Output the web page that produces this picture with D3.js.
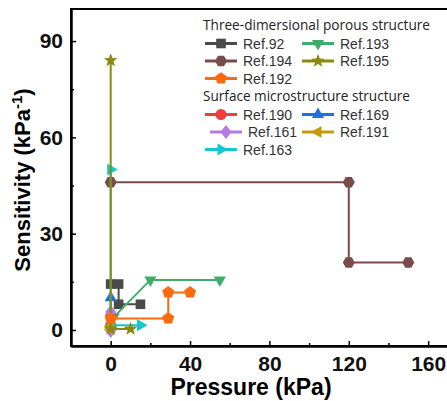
<!DOCTYPE html>
<html>
<head>
<meta charset="utf-8">
<script src="https://cdn.jsdelivr.net/npm/d3@7"></script>
<style>
  body { margin: 0; background: #fff; }
  svg { display: block; }
</style>
</head>
<body>
<div id="chart"></div>
<script>
// pressure (kPa), sensitivity (kPa^-1)
const ref92 = [[0, 14.3], [4, 14.3], [4, 8], [15, 8]];
const ref194 = [[0, 46], [120, 46], [120, 21], [150, 21]];
const ref192 = [[0, 3.6], [29, 3.6], [29, 11.7], [40, 11.7]];
const ref193 = [[1.5, 4], [20, 15.6], [55, 15.6]];
const ref195 = [[0, 84], [0, 0.3], [10, 0.3]];
const ref190 = [[0, 4.2], [0, 1.5]];
const ref169 = [[0, 10], [0, 2]];
const ref161 = [[0, 5.6], [0, -0.3]];
const ref191 = [[0, 1.2], [0, 0.2]];
const ref163 = [[0, 50], [0, 1.5], [15, 1.5]];

const xTicks = [0, 40, 80, 120, 160];
const xMinor = [20, 60, 100, 140];
const yTicks = [0, 30, 60, 90];
const yMinor = [15, 45, 75];

const groupTitles = ["Three-dimersional porous structure", "Surface microstructure structure"];

const W = 447, H = 401;
const MARGIN = { LEFT: 71, TOP: 9, RIGHT: -1, BOTTOM: 55 };

// polygon marker path, r = radius, rot in degrees (0 = first vertex up)
function poly(n, r, rot) {
  let pts = [];
  for (let i = 0; i < n; i++) {
    let a = (rot + i * 360 / n) * Math.PI / 180;
    pts.push([r * Math.sin(a), -r * Math.cos(a)]);
  }
  return "M" + pts.map(p => p.join(",")).join("L") + "Z";
}
function star(r) {
  let pts = [];
  for (let i = 0; i < 10; i++) {
    let a = i * 36 * Math.PI / 180;
    let rr = i % 2 ? r * 0.42 : r;
    pts.push([rr * Math.sin(a), -rr * Math.cos(a)]);
  }
  return "M" + pts.map(p => p.join(",")).join("L") + "Z";
}
const shapes = {
  square: poly(4, 6.8, 45),
  hexagon: poly(6, 6, 30),
  pentagon: poly(5, 6.3, 0),
  tri_down: poly(3, 7, 180),
  tri_up: poly(3, 7, 0),
  tri_left: poly(3, 7, 270),
  tri_right: poly(3, 7, 90),
  star: star(7.2),
  circle: d3.symbol(d3.symbolCircle, 95)(),
  diamond: "M0,-7L5.5,0L0,7L-5.5,0Z",
};

// drawing order = z order
const series = [
  { name: "Ref.92", data: ref92, color: "#4a4a4a", shape: "square" },
  { name: "Ref.194", data: ref194, color: "#7a4b4b", shape: "hexagon" },
  { name: "Ref.193", data: ref193, color: "#3cae6a", shape: "tri_down" },
  { name: "Ref.190", data: ref190, color: "#f03c3c", shape: "circle" },
  { name: "Ref.169", data: ref169, color: "#1f6fe0", shape: "tri_up" },
  { name: "Ref.161", data: ref161, color: "#b57be0", shape: "diamond" },
  { name: "Ref.163", data: ref163, color: "#12c8cc", shape: "tri_right" },
  { name: "Ref.191", data: ref191, color: "#c89a0a", shape: "tri_left" },
  { name: "Ref.195", data: ref195, color: "#8a8a10", shape: "star" },
  { name: "Ref.192", data: ref192, color: "#ff6a0e", shape: "pentagon" },
];
const byName = {};
series.forEach(s => byName[s.name] = s);

const svg = d3.select("#chart").append("svg")
  .attr("width", W).attr("height", H);

const xScale = d3.scaleLinear().domain([-20, 170]).range([MARGIN.LEFT, W - MARGIN.RIGHT]);
const yScale = d3.scaleLinear().domain([-5, 100]).range([H - MARGIN.BOTTOM, MARGIN.TOP]);

// frame
svg.append("rect")
  .attr("x", MARGIN.LEFT).attr("y", MARGIN.TOP)
  .attr("width", W - MARGIN.RIGHT - MARGIN.LEFT)
  .attr("height", H - MARGIN.BOTTOM - MARGIN.TOP)
  .attr("fill", "none").attr("stroke", "#000").attr("stroke-width", 2);

// axes, ticks pointing inward
svg.append("g")
  .attr("transform", `translate(0, ${H - MARGIN.BOTTOM})`)
  .call(d3.axisBottom(xScale).tickValues(xTicks).tickSizeInner(-5).tickSizeOuter(0).tickPadding(10));
svg.append("g")
  .attr("transform", `translate(0, ${H - MARGIN.BOTTOM})`)
  .call(d3.axisBottom(xScale).tickValues(xMinor).tickFormat("").tickSizeInner(-3).tickSizeOuter(0));
svg.append("g")
  .attr("transform", `translate(${MARGIN.LEFT}, 0)`)
  .call(d3.axisLeft(yScale).tickValues(yTicks).tickSizeInner(-5).tickSizeOuter(0).tickPadding(8));
svg.append("g")
  .attr("transform", `translate(${MARGIN.LEFT}, 0)`)
  .call(d3.axisLeft(yScale).tickValues(yMinor).tickFormat("").tickSizeInner(-3).tickSizeOuter(0));

svg.selectAll(".domain").attr("stroke-width", 2);
svg.selectAll(".tick line").attr("stroke-width", 1.5);
svg.selectAll(".tick text")
  .style("font-family", "'Liberation Sans', Arial, sans-serif")
  .style("font-weight", "bold")
  .style("font-size", "21px")
  .attr("fill", "#111");

// axis titles
svg.append("text")
  .attr("x", 251).attr("y", 395)
  .attr("text-anchor", "middle")
  .style("font-family", "'Liberation Sans', Arial, sans-serif")
  .style("font-weight", "bold").style("font-size", "23px")
  .text("Pressure (kPa)");

let yl = svg.append("text")
  .attr("transform", "translate(30, 180) rotate(-90)")
  .attr("text-anchor", "middle")
  .style("font-family", "'Liberation Sans', Arial, sans-serif")
  .style("font-weight", "bold").style("font-size", "22px");
yl.append("tspan").text("Sensitivity (kPa");
yl.append("tspan").attr("dy", -8).style("font-size", "15px").text("-1");
yl.append("tspan").attr("dy", 8).text(")");

// series
let line = d3.line().x(d => xScale(d[0])).y(d => yScale(d[1]));
series.forEach(s => {
  let g = svg.append("g");
  g.append("path")
    .attr("d", line(s.data))
    .attr("fill", "none")
    .attr("stroke", s.color)
    .attr("stroke-width", 2);
  g.selectAll("path.mk")
    .data(s.data)
    .join("path")
    .attr("class", "mk")
    .attr("d", shapes[s.shape])
    .attr("transform", d => `translate(${xScale(d[0])}, ${yScale(d[1])})`)
    .attr("fill", s.color);
});

// legend
const legendRows = [
  { title: groupTitles[0], y: 29.5, w: 227 },
  { name: "Ref.92", x: 205, y: 43.5 }, { name: "Ref.193", x: 302, y: 43.5 },
  { name: "Ref.194", x: 205, y: 61 }, { name: "Ref.195", x: 302, y: 61 },
  { name: "Ref.192", x: 205, y: 78.5 },
  { title: groupTitles[1], y: 100.5, w: 207 },
  { name: "Ref.190", x: 205, y: 114.5 }, { name: "Ref.169", x: 302, y: 114.5 },
  { name: "Ref.161", x: 210, y: 132 }, { name: "Ref.191", x: 302, y: 132 },
  { name: "Ref.163", x: 205, y: 149.5 },
];
let legend = svg.append("g");
legendRows.forEach(r => {
  if (r.title) {
    legend.append("text")
      .attr("x", 203).attr("y", r.y)
      .attr("textLength", r.w).attr("lengthAdjust", "spacingAndGlyphs")
      .style("font-family", "'Open Sans', sans-serif")
      .style("font-size", "14px").attr("fill", "#222")
      .text(r.title);
    return;
  }
  let s = byName[r.name];
  legend.append("line")
    .attr("x1", r.x).attr("x2", r.x + 32)
    .attr("y1", r.y).attr("y2", r.y)
    .attr("stroke", s.color).attr("stroke-width", 3);
  legend.append("path")
    .attr("d", shapes[s.shape])
    .attr("transform", `translate(${r.x + 16}, ${r.y})`)
    .attr("fill", s.color);
  legend.append("text")
    .attr("x", r.x + 38).attr("y", r.y + 5)
    .style("font-family", "'Liberation Sans', Arial, sans-serif")
    .style("font-size", "14px").attr("fill", "#333")
    .text(r.name);
});
</script>
</body>
</html>
